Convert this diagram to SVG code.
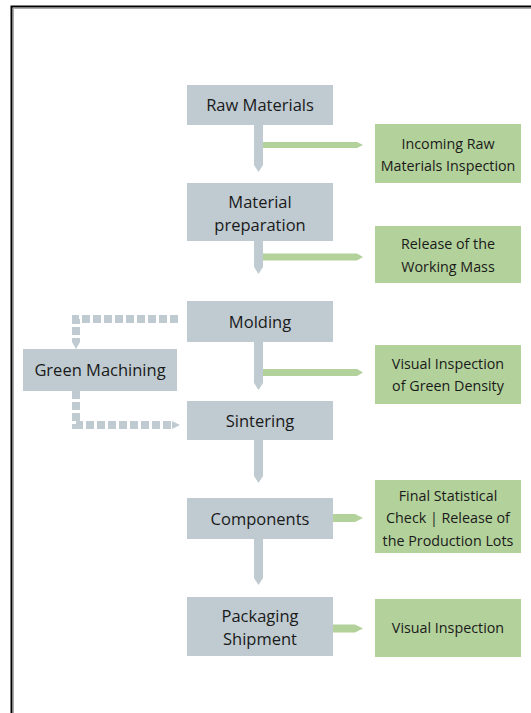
<svg xmlns="http://www.w3.org/2000/svg" width="531" height="713" viewBox="0 0 531 713">
<style>
.proc{fill:#bfcbd1}
.chk{fill:#b3d19a}
.t{font-family:"Open Sans","Noto Sans","Liberation Sans",sans-serif;fill:#1a1a1a;text-anchor:middle}
.tp{font-size:16.5px}
.tg{font-size:14.3px}
.gc{fill:#bfcbd1}
.gg{fill:#b3d19a}
.dash{fill:none;stroke:#bfcbd1;stroke-width:8;stroke-dasharray:8 3}
</style>
<rect x="0" y="0" width="531" height="713" fill="#fff"/>
<rect x="11.5" y="6.5" width="540" height="720" fill="none" stroke="#000" stroke-width="2"/>
<rect x="13.5" y="8.5" width="540" height="720" fill="none" stroke="#aaa" stroke-width="1"/>
<g id="connectors">
<polygon class="gc" points="254,125 263,125 263,165 258.5,172 254,165"/>
<polygon class="gg" points="263,142 357,142 363,145 357,148 263,148"/>
<polygon class="gc" points="254,241 263,241 263,267 258.5,274 254,267"/>
<polygon class="gg" points="263,253.5 357,253.5 363,257 357,260.5 263,260.5"/>
<polygon class="gc" points="254,342 263,342 263,383 258.5,390 254,383"/>
<polygon class="gg" points="263,369 357,369 363,372.5 357,376 263,376"/>
<polygon class="gc" points="254,440 263,440 263,476 258.5,483 254,476"/>
<polygon class="gg" points="333,514 355,514 363,518 355,522 333,522"/>
<polygon class="gc" points="254,539 263,539 263,578 258.5,585 254,578"/>
<polygon class="gg" points="333,624.5 355,624.5 363,628.5 355,632.5 333,632.5"/>
<path class="dash" d="M178,319 H76 V342"/>
<polygon class="gc" points="72,342 80,342 76,349"/>
<path class="dash" d="M76,391 V425 H172"/>
<polygon class="gc" points="172,421 172,429 180,425"/>
</g>
<g id="raw-materials"><rect class="proc" x="187" y="85" width="146" height="40"/><text class="t tp" x="260" y="111">Raw Materials</text></g>
<g id="material-preparation"><rect class="proc" x="187" y="183" width="146" height="58"/><text class="t tp" x="260" y="208">Material</text><text class="t tp" x="260" y="231">preparation</text></g>
<g id="molding"><rect class="proc" x="187" y="301" width="146" height="41"/><text class="t tp" x="260" y="327.5">Molding</text></g>
<g id="sintering"><rect class="proc" x="187" y="401" width="146" height="39"/><text class="t tp" x="260" y="426.5">Sintering</text></g>
<g id="components"><rect class="proc" x="187" y="498" width="146" height="41"/><text class="t tp" x="260" y="525">Components</text></g>
<g id="packaging-shipment"><rect class="proc" x="187" y="597" width="146" height="59"/><text class="t tp" x="260" y="622">Packaging</text><text class="t tp" x="260" y="644.5">Shipment</text></g>
<g id="green-machining"><rect class="proc" x="23" y="349" width="154" height="42"/><text class="t tp" x="100" y="376">Green Machining</text></g>
<g id="incoming-inspection"><rect class="chk" x="375" y="124" width="146" height="59"/><text class="t tg" x="448" y="149">Incoming Raw</text><text class="t tg" x="448" y="171">Materials Inspection</text></g>
<g id="release-working-mass"><rect class="chk" x="375" y="226" width="146" height="57"/><text class="t tg" x="448" y="249">Release of the</text><text class="t tg" x="448" y="272">Working Mass</text></g>
<g id="visual-green-density"><rect class="chk" x="375" y="345" width="146" height="59"/><text class="t tg" x="448" y="369">Visual Inspection</text><text class="t tg" x="448" y="391">of Green Density</text></g>
<g id="final-check"><rect class="chk" x="375" y="480" width="146" height="73"/><text class="t tg" x="448" y="501">Final Statistical</text><text class="t tg" x="448" y="523">Check | Release of</text><text class="t tg" x="448" y="546">the Production Lots</text></g>
<g id="visual-inspection"><rect class="chk" x="375" y="599" width="146" height="58"/><text class="t tg" x="448" y="633">Visual Inspection</text></g>
</svg>
